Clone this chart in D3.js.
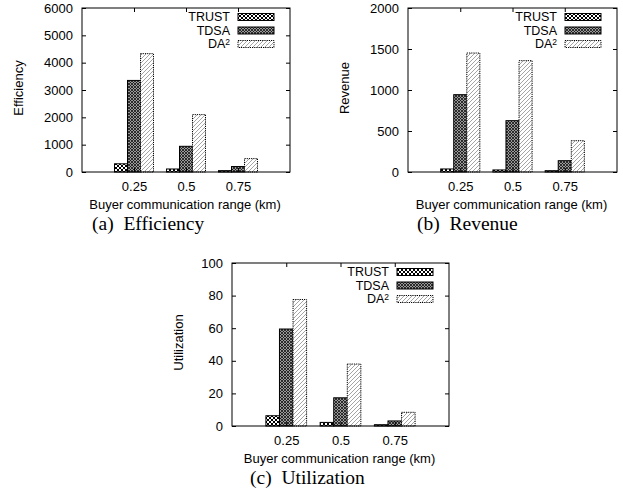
<!DOCTYPE html>
<html>
<head>
<meta charset="utf-8">
<script src="https://cdn.jsdelivr.net/npm/d3@7"></script>
<style>
  html, body { margin: 0; padding: 0; background: #fff; }
  svg { display: block; }
</style>
</head>
<body>
<svg id="chart" width="623" height="491"></svg>
<script>
// ---- data ----
const categories = ["0.25", "0.5", "0.75"];
const seriesNames = ["TRUST", "TDSA", "DA2"];

const efficiencyTRUST = [300, 110, 50];
const efficiencyTDSA  = [3350, 940, 200];
const efficiencyDA2   = [4330, 2100, 490];
const efficiencyTicks = [0, 1000, 2000, 3000, 4000, 5000, 6000];

const revenueTRUST = [37, 25, 16];
const revenueTDSA  = [943, 626, 138];
const revenueDA2   = [1451, 1358, 382];
const revenueTicks = [0, 500, 1000, 1500, 2000];

const utilizationTRUST = [6.3, 2.2, 0.8];
const utilizationTDSA  = [59.5, 17.3, 3.1];
const utilizationDA2   = [77.6, 38, 8.4];
const utilizationTicks = [0, 20, 40, 60, 80, 100];

const xLabel = "Buyer communication range (km)";

// ---- drawing ----
const svg = d3.select("#chart");
svg.append("rect").attr("width", 623).attr("height", 491).attr("fill", "#fff");

const defs = svg.append("defs");
// TRUST: open crosshatch (white diamonds on black)
const p1 = defs.append("pattern").attr("id", "pTRUST").attr("patternUnits", "userSpaceOnUse")
  .attr("width", 4).attr("height", 4);
p1.append("rect").attr("width", 4).attr("height", 4).attr("fill", "#fff");
p1.append("path").attr("d", "M0,0L4,4M4,0L0,4").attr("stroke", "#000").attr("stroke-width", 1.0);
// TDSA: dense crosshatch (dark)
const p2 = defs.append("pattern").attr("id", "pTDSA").attr("patternUnits", "userSpaceOnUse")
  .attr("width", 3).attr("height", 3);
p2.append("rect").attr("width", 3).attr("height", 3).attr("fill", "#9a9a9a");
p2.append("path").attr("d", "M0,0L3,3M3,0L0,3").attr("stroke", "#111").attr("stroke-width", 0.8);
// DA2: light diagonal hatching
const p3 = defs.append("pattern").attr("id", "pDA2").attr("patternUnits", "userSpaceOnUse")
  .attr("width", 4).attr("height", 4);
p3.append("rect").attr("width", 4).attr("height", 4).attr("fill", "#fff");
p3.append("path").attr("d", "M-1,5L5,-1M-1,1L1,-1M3,5L5,3").attr("stroke", "#666").attr("stroke-width", 0.6);

const fills = { TRUST: "url(#pTRUST)", TDSA: "url(#pTDSA)", DA2: "url(#pDA2)" };
const dashes = { TRUST: null, TDSA: null, DA2: "1.2,1" };

const sansFont = "'Liberation Sans', Arial, Helvetica, sans-serif";
const serifFont = "'Liberation Serif', 'Times New Roman', serif";

function drawPanel(cfg) {
  const g = svg.append("g");
  const x = d3.scaleLinear().domain([0, 4]).range([cfg.left, cfg.right]);
  const y = d3.scaleLinear().domain([0, cfg.ticks[cfg.ticks.length - 1]]).range([cfg.bottom, cfg.top]);
  const barW = 0.25;
  const series = [cfg.s1, cfg.s2, cfg.s3];

  // bars
  seriesNames.forEach((name, si) => {
    g.selectAll(null).data(series[si]).enter().append("rect")
      .attr("x", (d, i) => x(i + 1 + (si - 1) * barW - barW / 2))
      .attr("width", x(barW) - x(0))
      .attr("y", d => y(d))
      .attr("height", d => y(0) - y(d))
      .attr("fill", fills[name])
      .attr("stroke", "#000")
      .attr("stroke-width", 1)
      .attr("stroke-dasharray", dashes[name]);
  });

  // y axis ticks (left and mirrored right)
  const yAxisL = d3.axisLeft(y).tickValues(cfg.ticks).tickFormat(d3.format("d"))
    .tickSizeInner(-4).tickSizeOuter(0).tickPadding(9);
  const gl = g.append("g").attr("transform", `translate(${cfg.left},0)`).call(yAxisL);
  const yAxisR = d3.axisRight(y).tickValues(cfg.ticks).tickSizeInner(-4).tickSizeOuter(0).tickFormat("");
  const gr = g.append("g").attr("transform", `translate(${cfg.right},0)`).call(yAxisR);
  // x axis ticks (bottom and mirrored top)
  const xAxisB = d3.axisBottom(x).tickValues([1, 2, 3]).tickFormat((d, i) => categories[i])
    .tickSizeInner(-4).tickSizeOuter(0).tickPadding(10);
  const gb = g.append("g").attr("transform", `translate(0,${cfg.bottom})`).call(xAxisB);
  const xAxisT = d3.axisTop(x).tickValues([1, 2, 3]).tickFormat("").tickSizeInner(-4).tickSizeOuter(0);
  const gt = g.append("g").attr("transform", `translate(0,${cfg.top})`).call(xAxisT);
  [gl, gr, gb, gt].forEach(a => {
    a.select(".domain").remove();
    a.selectAll("line").attr("stroke", "#000");
    a.selectAll("text").attr("font-family", sansFont).attr("font-size", 13).attr("fill", "#000");
  });

  // frame
  g.append("rect").attr("x", cfg.left).attr("y", cfg.top)
    .attr("width", cfg.right - cfg.left).attr("height", cfg.bottom - cfg.top)
    .attr("fill", "none").attr("stroke", "#000").attr("stroke-width", 1);

  // y label
  g.append("text").attr("transform", `translate(${cfg.yLabelX},${(cfg.top + cfg.bottom) / 2 - 2}) rotate(-90)`)
    .attr("text-anchor", "middle").attr("dy", "0.35em")
    .attr("font-family", sansFont).attr("font-size", 13).text(cfg.yLabel);

  // x label
  g.append("text").attr("x", (cfg.left + cfg.right) / 2 - 1).attr("y", cfg.bottom + 37)
    .attr("text-anchor", "middle").attr("font-family", sansFont).attr("font-size", 13).text(xLabel);

  // caption
  g.append("text").attr("x", cfg.capX).attr("y", cfg.bottom + 58)
    .attr("font-family", serifFont).attr("font-size", 19.5).attr("xml:space", "preserve")
    .text(cfg.caption);

  // legend
  const lg = g.append("g");
  seriesNames.forEach((name, i) => {
    const cy = cfg.top + 9 + i * 13.5;
    const swR = cfg.right - 16;
    lg.append("rect").attr("x", swR - 36).attr("y", cy - 3.5).attr("width", 36).attr("height", 7)
      .attr("fill", fills[name]).attr("stroke", "#000").attr("stroke-width", 1)
      .attr("stroke-dasharray", dashes[name]);
    const t = lg.append("text").attr("x", swR - 44).attr("y", cy).attr("dy", "0.35em")
      .attr("text-anchor", "end").attr("font-family", sansFont).attr("font-size", 12.5);
    if (name === "DA2") {
      t.append("tspan").text("DA");
      t.append("tspan").attr("font-size", 8.5).attr("dy", "-0.45em").text("2");
    } else {
      t.text(name);
    }
  });
}

drawPanel({ left: 82, right: 290, top: 8, bottom: 172, ticks: efficiencyTicks,
  s1: efficiencyTRUST, s2: efficiencyTDSA, s3: efficiencyDA2,
  yLabel: "Efficiency", yLabelX: 18, caption: "(a)  Efficiency", capX: 92 });
drawPanel({ left: 408, right: 617, top: 8, bottom: 172, ticks: revenueTicks,
  s1: revenueTRUST, s2: revenueTDSA, s3: revenueDA2,
  yLabel: "Revenue", yLabelX: 344, caption: "(b)  Revenue", capX: 417 });
drawPanel({ left: 232, right: 449, top: 263, bottom: 426, ticks: utilizationTicks,
  s1: utilizationTRUST, s2: utilizationTDSA, s3: utilizationDA2,
  yLabel: "Utilization", yLabelX: 178, caption: "(c)  Utilization", capX: 250 });
</script>
</body>
</html>
